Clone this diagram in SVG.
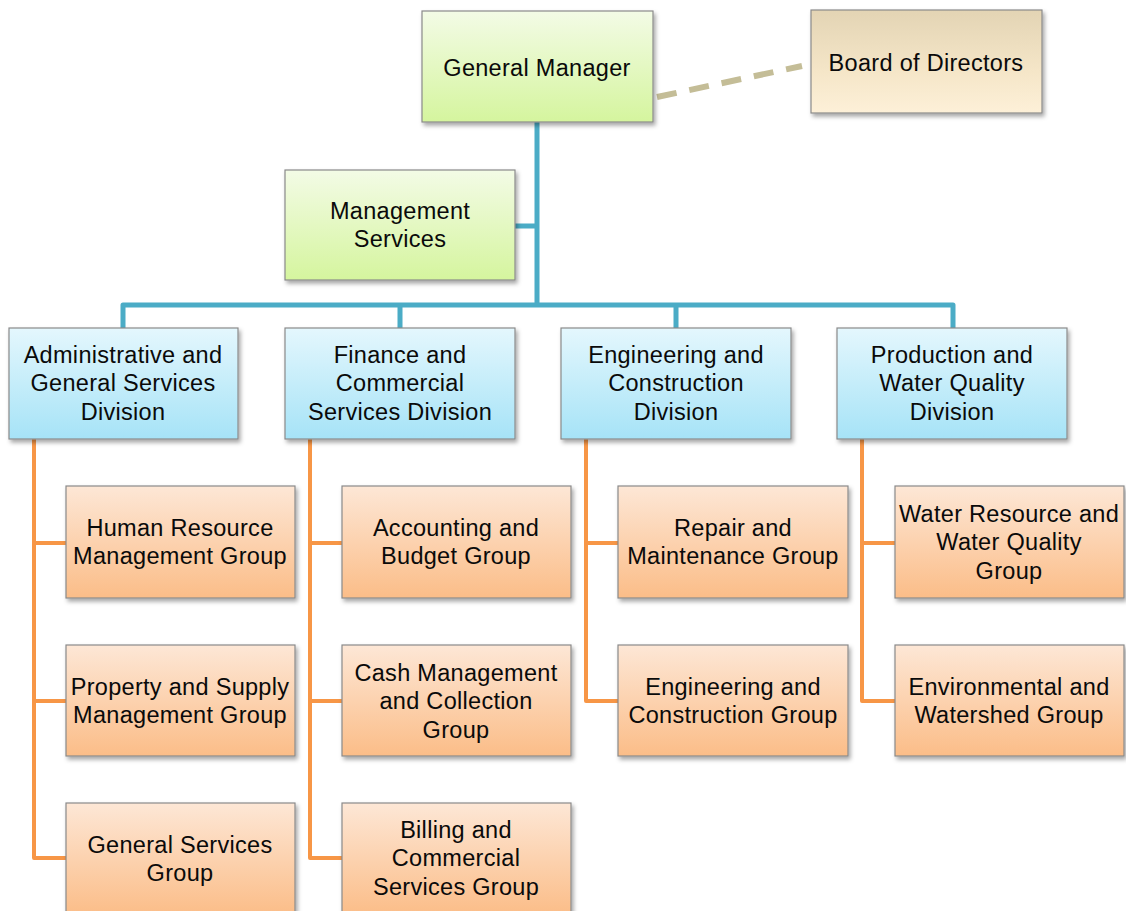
<svg xmlns="http://www.w3.org/2000/svg" width="1126" height="911" viewBox="0 0 1126 911">
<defs>
<linearGradient id="gGreen" x1="0" y1="0" x2="0" y2="1"><stop offset="0" stop-color="#f3fbe6"/><stop offset="1" stop-color="#d5f59e"/></linearGradient>
<linearGradient id="gBlue" x1="0" y1="0" x2="0" y2="1"><stop offset="0" stop-color="#e4f7fd"/><stop offset="1" stop-color="#a6e3f7"/></linearGradient>
<linearGradient id="gOrange" x1="0" y1="0" x2="0" y2="1"><stop offset="0" stop-color="#fde7d6"/><stop offset="1" stop-color="#fbbd88"/></linearGradient>
<linearGradient id="gTan" x1="0" y1="0" x2="0" y2="1"><stop offset="0" stop-color="#e3d4b4"/><stop offset="0.6" stop-color="#f5e6c8"/><stop offset="1" stop-color="#fdf0d8"/></linearGradient>
<filter id="sh" x="-10%" y="-10%" width="125%" height="130%"><feDropShadow dx="2" dy="3" stdDeviation="2" flood-color="#000" flood-opacity="0.35"/></filter>
</defs>
<style>
.box{stroke:#8a8a8a;stroke-width:1.2;filter:url(#sh)}
.g{fill:url(#gGreen)} .b{fill:url(#gBlue)} .o{fill:url(#gOrange)} .t{fill:url(#gTan)}
text{font-family:"Liberation Sans",Arial,sans-serif;font-size:23.5px;letter-spacing:0.3px;fill:#0a0a0a;text-anchor:middle}
.blue{fill:none;stroke:#4bacc6;stroke-width:5;stroke-linejoin:round}
.orange{fill:none;stroke:#f79646;stroke-width:4;stroke-linejoin:round}
.dash{fill:none;stroke:#c4bd97;stroke-width:6;stroke-dasharray:20 13}
</style>
<g id="connectors">
<path class="dash" d="M657,97 L802,66"/>
<path class="blue" d="M537,122 V305 M515,226 H537 M123,328 V305 H953 V328 M400,305 V328 M676,305 V328"/>
<path class="orange" d="M34,439 V858 H66 M34,543 H66 M34,701 H66"/>
<path class="orange" d="M310,439 V858 H342 M310,543 H342 M310,701 H342"/>
<path class="orange" d="M586,439 V701 H618 M586,543 H618"/>
<path class="orange" d="M862,439 V701 H895 M862,543 H895"/>
</g>
<g id="general-manager"><rect class="box g" x="422" y="11" width="231" height="111"/><text x="537" y="76">General Manager</text></g>
<g id="board-of-directors"><rect class="box t" x="811" y="10" width="231" height="103"/><text x="926" y="71">Board of Directors</text></g>
<g id="management-services"><rect class="box g" x="285" y="170" width="230" height="110"/><text x="400" y="219">Management</text><text x="400" y="247">Services</text></g>
<g id="div-admin"><rect class="box b" x="9" y="328" width="229" height="111"/><text x="123" y="363">Administrative and</text><text x="123" y="391">General Services</text><text x="123" y="420">Division</text></g>
<g id="div-finance"><rect class="box b" x="285" y="328" width="230" height="111"/><text x="400" y="363">Finance and</text><text x="400" y="391">Commercial</text><text x="400" y="420">Services Division</text></g>
<g id="div-engineering"><rect class="box b" x="561" y="328" width="230" height="111"/><text x="676" y="363">Engineering and</text><text x="676" y="391">Construction</text><text x="676" y="420">Division</text></g>
<g id="div-production"><rect class="box b" x="837" y="328" width="230" height="111"/><text x="952" y="363">Production and</text><text x="952" y="391">Water Quality</text><text x="952" y="420">Division</text></g>
<g id="hr-group"><rect class="box o" x="66" y="486" width="229" height="112"/><text x="180" y="536">Human Resource</text><text x="180" y="564">Management Group</text></g>
<g id="property-group"><rect class="box o" x="66" y="645" width="229" height="111"/><text x="180" y="695">Property and Supply</text><text x="180" y="723">Management Group</text></g>
<g id="general-services-group"><rect class="box o" x="66" y="803" width="229" height="112"/><text x="180" y="853">General Services</text><text x="180" y="881">Group</text></g>
<g id="accounting-group"><rect class="box o" x="342" y="486" width="229" height="112"/><text x="456" y="536">Accounting and</text><text x="456" y="564">Budget Group</text></g>
<g id="cash-group"><rect class="box o" x="342" y="645" width="229" height="111"/><text x="456" y="681">Cash Management</text><text x="456" y="709">and Collection</text><text x="456" y="738">Group</text></g>
<g id="billing-group"><rect class="box o" x="342" y="803" width="229" height="112"/><text x="456" y="838">Billing and</text><text x="456" y="866">Commercial</text><text x="456" y="895">Services Group</text></g>
<g id="repair-group"><rect class="box o" x="618" y="486" width="230" height="112"/><text x="733" y="536">Repair and</text><text x="733" y="564">Maintenance Group</text></g>
<g id="eng-group"><rect class="box o" x="618" y="645" width="230" height="111"/><text x="733" y="695">Engineering and</text><text x="733" y="723">Construction Group</text></g>
<g id="water-group"><rect class="box o" x="895" y="486" width="229" height="112"/><text x="1009" y="522">Water Resource and</text><text x="1009" y="550">Water Quality</text><text x="1009" y="579">Group</text></g>
<g id="env-group"><rect class="box o" x="895" y="645" width="229" height="111"/><text x="1009" y="695">Environmental and</text><text x="1009" y="723">Watershed Group</text></g>
</svg>
